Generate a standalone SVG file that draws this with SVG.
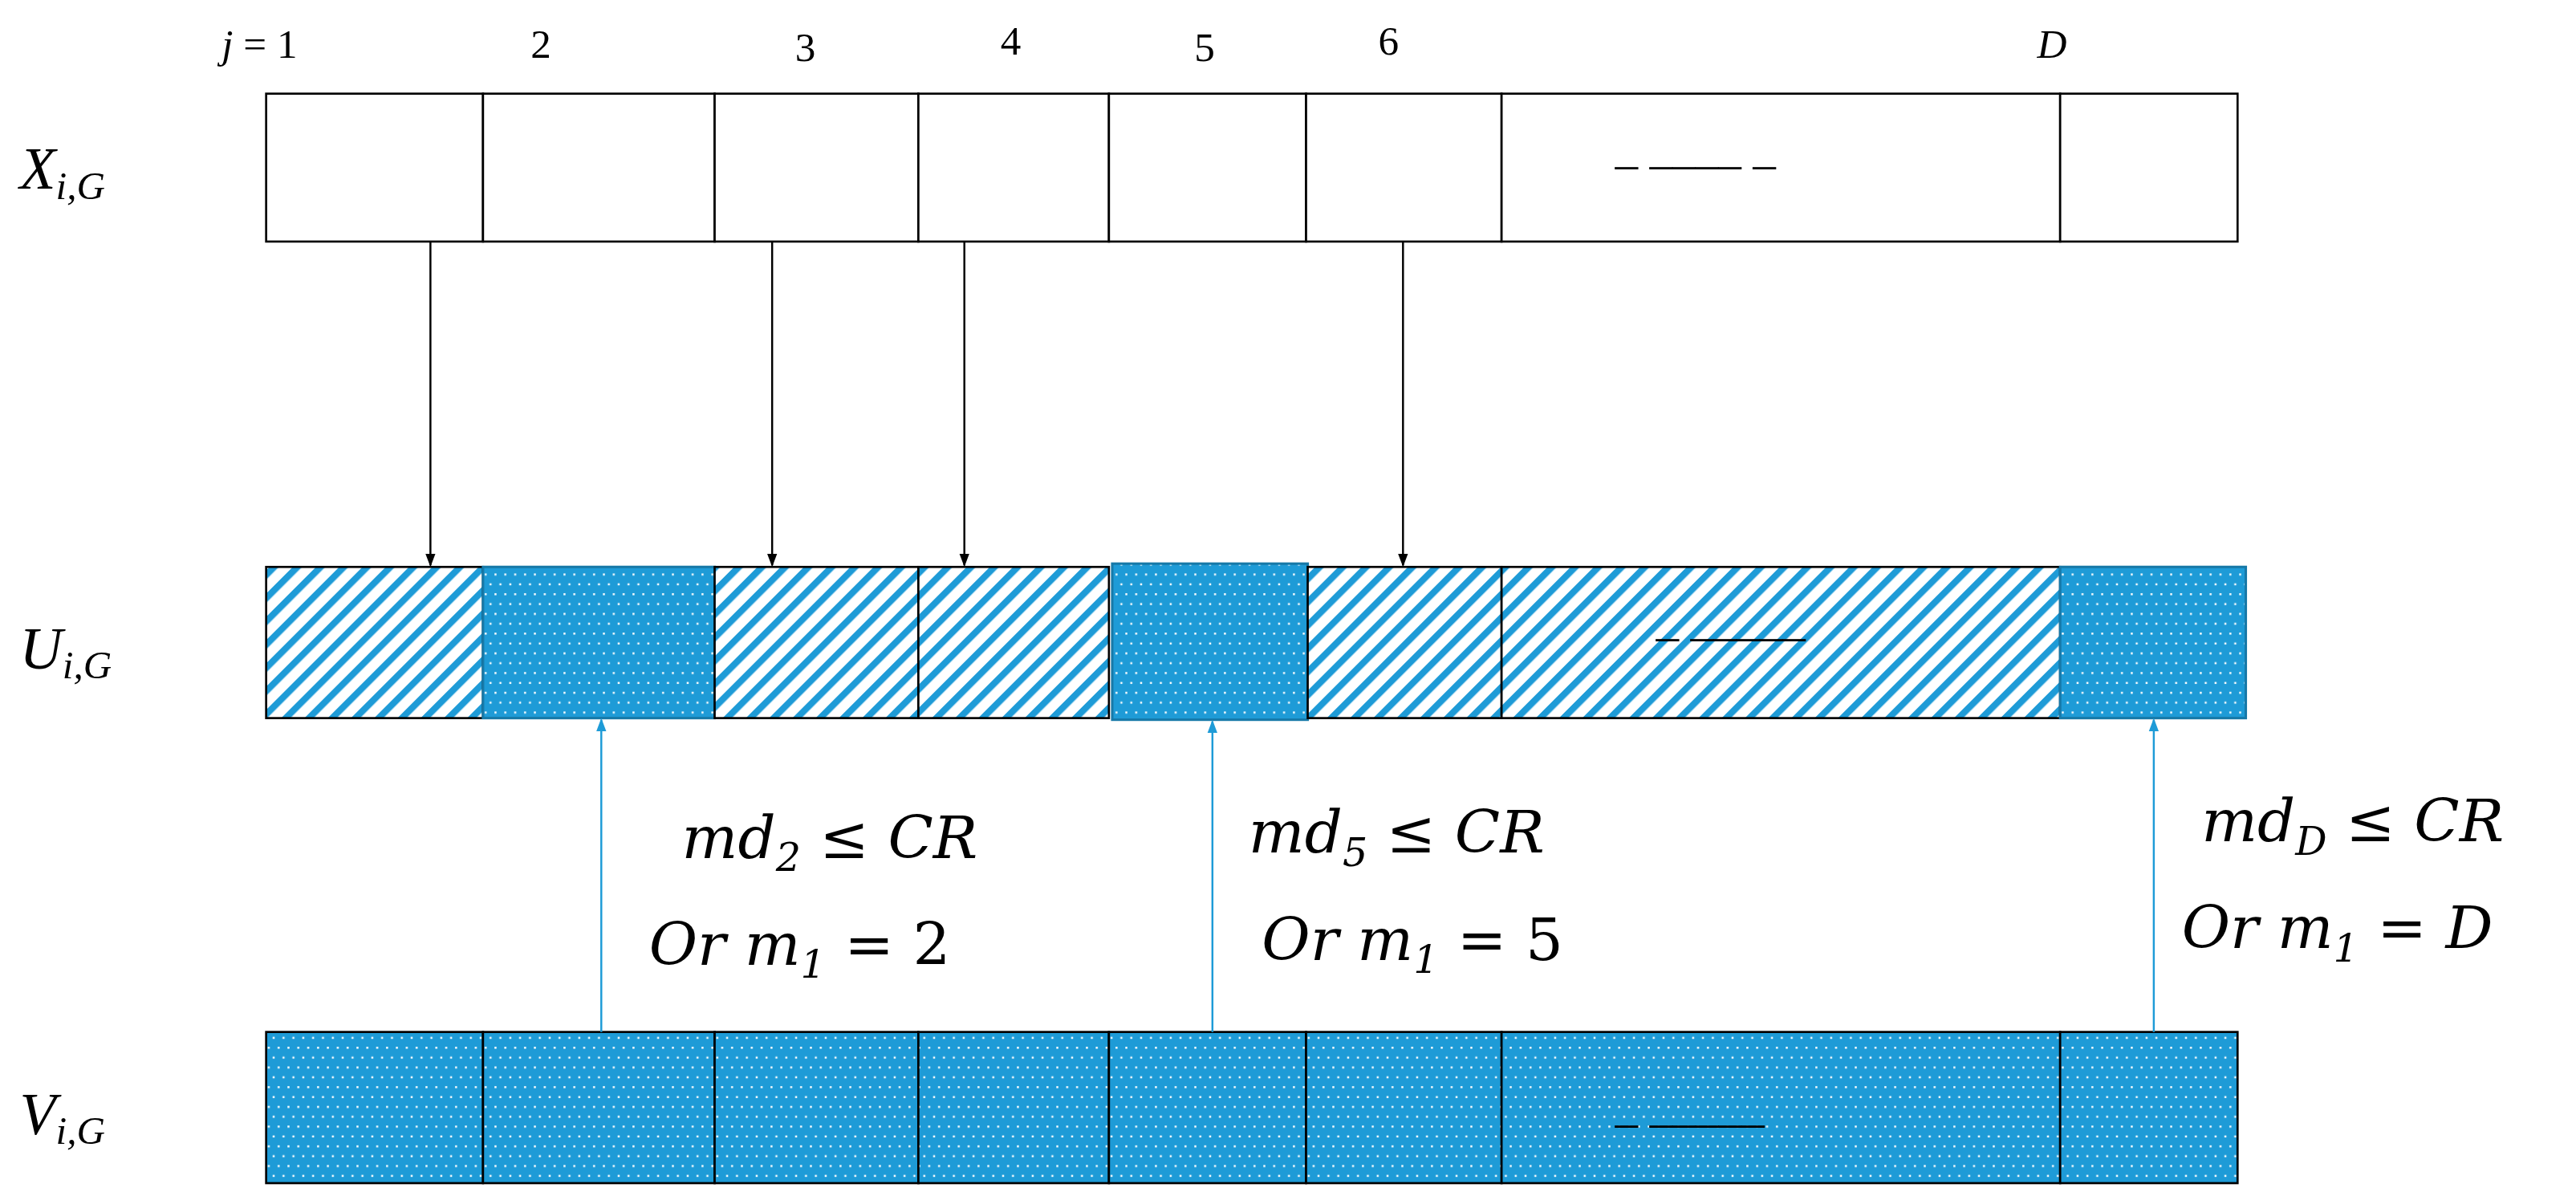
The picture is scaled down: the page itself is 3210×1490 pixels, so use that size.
<svg xmlns="http://www.w3.org/2000/svg" width="3210" height="1490" viewBox="0 0 3210 1490">
<style>
.c{stroke:#000;stroke-width:1.3;fill:#fff}
.h{stroke:#000;stroke-width:1.3;fill:url(#hatch)}
.d{stroke:#000;stroke-width:1.3;fill:url(#dots)}
.db{stroke:#1779A8;stroke-width:1.5;fill:url(#dots)}
.t{font-family:"Liberation Serif",serif;fill:#000}
.m{font-family:"DejaVu Serif","Liberation Serif",serif;font-style:italic;fill:#000}
.ak{stroke:#000;stroke-width:1.2;fill:none}
.ab{stroke:#1E9BD7;stroke-width:1.2;fill:none}
</style>
<defs>
<pattern id="hatch" patternUnits="userSpaceOnUse" width="10" height="10" patternTransform="rotate(45)">
<rect width="10" height="10" fill="#fff"/><rect width="4" height="10" fill="#1E9BD7"/>
</pattern>
<pattern id="dots" patternUnits="userSpaceOnUse" width="6" height="12">
<rect width="6" height="12" fill="#1E9BD7"/><rect x="1" y="1" width="1.2" height="1.2" fill="#fff"/><rect x="4" y="7" width="1.2" height="1.2" fill="#fff"/>
</pattern>
<marker id="mk" markerWidth="8" markerHeight="8" refX="7" refY="4" orient="auto" markerUnits="userSpaceOnUse"><path d="M0,1 L8,4 L0,7 z" fill="#000"/></marker>
<marker id="mb" markerWidth="8" markerHeight="8" refX="7" refY="4" orient="auto" markerUnits="userSpaceOnUse"><path d="M0,1 L8,4 L0,7 z" fill="#1E9BD7"/></marker>
</defs>
<rect width="3210" height="1490" fill="#fff"/>
<g transform="scale(2.0472)">
<g id="labels">
<text class="t" x="135" y="35" font-size="25"><tspan font-style="italic">j</tspan> = 1</text>
<text class="t" x="323" y="35" font-size="25">2</text>
<text class="t" x="484" y="37" font-size="25">3</text>
<text class="t" x="609" y="33" font-size="25">4</text>
<text class="t" x="727" y="37" font-size="25">5</text>
<text class="t" x="839" y="33" font-size="25">6</text>
<text class="t" x="1240" y="35" font-size="25" font-style="italic">D</text>
<text class="t" x="12" y="115" font-size="36" font-style="italic">X<tspan font-size="24" dy="6">i,G</tspan></text>
<text class="t" x="12" y="407" font-size="36" font-style="italic">U<tspan font-size="24" dy="6">i,G</tspan></text>
<text class="t" x="12" y="690" font-size="36" font-style="italic">V<tspan font-size="24" dy="6">i,G</tspan></text>
</g>
<g id="row-X">
<rect class="c" x="162" y="57" width="132" height="90"/>
<rect class="c" x="294" y="57" width="141" height="90"/>
<rect class="c" x="435" y="57" width="124" height="90"/>
<rect class="c" x="559" y="57" width="116" height="90"/>
<rect class="c" x="675" y="57" width="120" height="90"/>
<rect class="c" x="795" y="57" width="119" height="90"/>
<rect class="c" x="914" y="57" width="340" height="90"/>
<rect class="c" x="1254" y="57" width="108" height="90"/>
<text class="t" x="983" y="109" font-size="28">–  ––––  –</text>
</g>
<g id="row-U">
<rect class="h" x="162" y="345" width="132" height="92"/>
<rect class="db" x="294" y="345" width="141" height="92"/>
<rect class="h" x="435" y="345" width="124" height="92"/>
<rect class="h" x="559" y="345" width="116" height="92"/>
<rect class="db" x="677" y="343" width="119" height="95"/>
<rect class="h" x="796" y="345" width="118" height="92"/>
<rect class="h" x="914" y="345" width="340" height="92"/>
<rect class="db" x="1254" y="345" width="113" height="92"/>
<text class="t" x="1008" y="396" font-size="28">–  –––––</text>
</g>
<g id="row-V">
<rect class="d" x="162" y="628" width="132" height="92"/>
<rect class="d" x="294" y="628" width="141" height="92"/>
<rect class="d" x="435" y="628" width="124" height="92"/>
<rect class="d" x="559" y="628" width="116" height="92"/>
<rect class="d" x="675" y="628" width="120" height="92"/>
<rect class="d" x="795" y="628" width="119" height="92"/>
<rect class="d" x="914" y="628" width="340" height="92"/>
<rect class="d" x="1254" y="628" width="108" height="92"/>
<text class="t" x="983" y="692" font-size="28">–  –––––</text>
</g>
<g id="connectors">
<line class="ak" x1="262" y1="147" x2="262" y2="344" marker-end="url(#mk)"/>
<line class="ak" x1="470" y1="147" x2="470" y2="344" marker-end="url(#mk)"/>
<line class="ak" x1="587" y1="147" x2="587" y2="344" marker-end="url(#mk)"/>
<line class="ak" x1="854" y1="147" x2="854" y2="344" marker-end="url(#mk)"/>
<line class="ab" x1="366" y1="628" x2="366" y2="438" marker-end="url(#mb)"/>
<line class="ab" x1="738" y1="628" x2="738" y2="439" marker-end="url(#mb)"/>
<line class="ab" x1="1311" y1="628" x2="1311" y2="438" marker-end="url(#mb)"/>
</g>
<g id="conditions">
<text class="m" x="415" y="522" font-size="36">md<tspan font-size="24" dy="8">2</tspan><tspan dy="-8"> ≤ CR</tspan></text>
<text class="m" x="395" y="587" font-size="36">Or m<tspan font-size="24" dy="8">1</tspan><tspan dy="-8" font-style="normal"> = 2</tspan></text>
<text class="m" x="760" y="519" font-size="36">md<tspan font-size="24" dy="8">5</tspan><tspan dy="-8"> ≤ CR</tspan></text>
<text class="m" x="768" y="584" font-size="36">Or m<tspan font-size="24" dy="8">1</tspan><tspan dy="-8" font-style="normal"> = 5</tspan></text>
<text class="m" x="1340" y="512" font-size="36">md<tspan font-size="24" dy="8">D</tspan><tspan dy="-8"> ≤ CR</tspan></text>
<text class="m" x="1328" y="577" font-size="36">Or m<tspan font-size="24" dy="8">1</tspan><tspan dy="-8"> = D</tspan></text>
</g>
</g>
</svg>
